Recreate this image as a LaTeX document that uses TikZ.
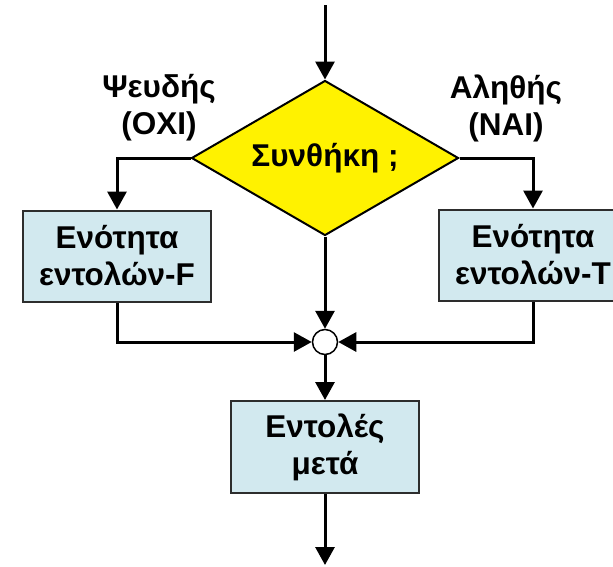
\documentclass[tikz,border=0pt]{standalone}
\usepackage{fontspec}
\setmainfont{Liberation Sans}
\usetikzlibrary{shapes.geometric,arrows.meta,positioning}

\definecolor{blockblue}{RGB}{210,233,239}
\definecolor{blockline}{RGB}{45,45,45}

\tikzset{
  every node/.style={align=center, font=\fontsize{31.5}{37}\selectfont\bfseries},
  flow/.style={line width=3pt, -{Triangle[length=18pt,width=19pt]}},
  block/.style={draw=blockline, line width=2pt, fill=blockblue, rectangle,
    minimum width=188pt, minimum height=91pt, inner sep=0pt},
  cond/.style={draw, line width=2pt, fill=yellow, diamond, aspect=1.72,
    minimum width=267pt, minimum height=155pt, inner sep=0pt},
  merge/.style={draw, line width=1.5pt, fill=white, circle, minimum size=25pt, inner sep=0pt}
}

\begin{document}
\begin{tikzpicture}[x=1pt, y=-1pt]
\useasboundingbox (0,0) rectangle (613,566);

% Nodes
\coordinate (start) at (325,5);
\node[cond] (test) at (325,158) {Συνθήκη ;};
\node[block] (blockF) at (117,256) {Ενότητα\\εντολών-F};
\node[block] (blockT) at (533,255) {Ενότητα\\εντολών-T};
\node[merge] (join) at (325,342) {};
\node[block, minimum height=92pt] (after) at (325,447) {Εντολές\\μετά};
\coordinate (finish) at (325,565);

% Labels of the branches
\node (nolabel) at (159,108) {Ψευδής\\(ΟΧΙ)};
\node (yeslabel) at (506,108) {Αληθής\\(ΝΑΙ)};

% Edges
\draw[flow] (start) -- (test.north);
\draw[flow] (test.west) -| (blockF.north);
\draw[flow] (test.east) -| (blockT.north);
\draw[flow] (test.south) -- (join.north);
\draw[flow] (blockF.south) |- (join.west);
\draw[flow] (blockT.south) |- (join.east);
\draw[flow] (join.south) -- (after.north);
\draw[flow] (after.south) -- (finish);

\end{tikzpicture}
\end{document}
